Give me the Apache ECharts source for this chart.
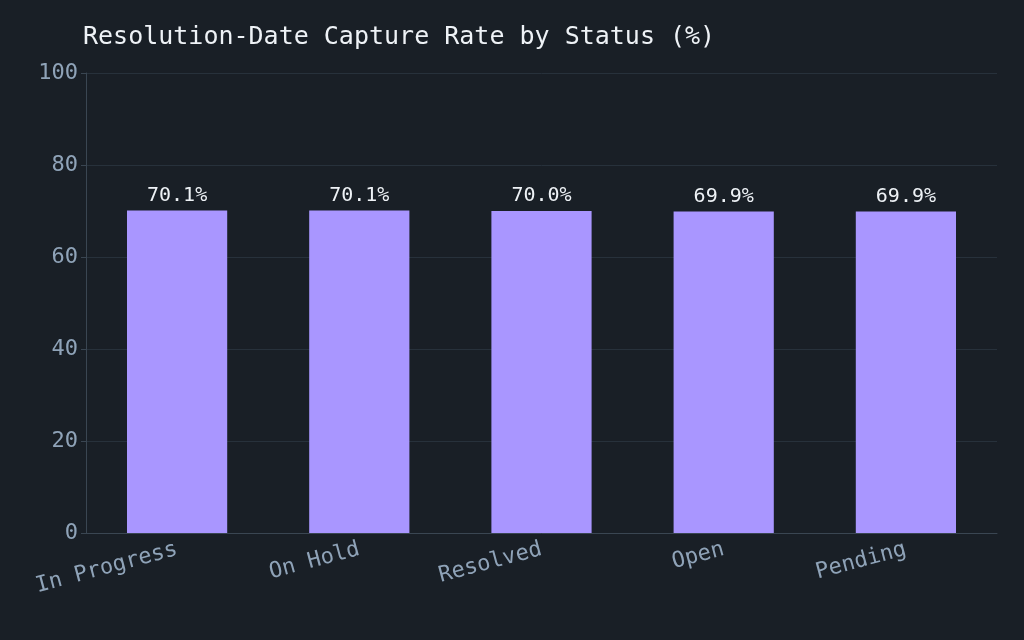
<!DOCTYPE html>
<html><head><meta charset="utf-8">
<script src="https://cdn.jsdelivr.net/npm/echarts@6/dist/echarts.min.js"></script>
<style>html,body{margin:0;background:#191f26}#c{width:1024px;height:640px}</style>
</head><body><div id="c"></div>
<script>
const categories = ["In Progress","On Hold","Resolved","Open","Pending"];
const values = [70.1,70.1,70.0,69.9,69.9];
const chart = echarts.init(document.getElementById('c'));
const font = 'DejaVu Sans Mono';
chart.setOption({
  backgroundColor:'#191f26',
  title:{text:'Resolution-Date Capture Rate by Status (%)',left:78,top:20,
    textStyle:{color:'#eef2f6',fontFamily:font,fontSize:25,fontWeight:'normal'}},
  grid:{left:86,right:27,top:73,bottom:107},
  xAxis:{type:'category',data:categories,
    axisLine:{lineStyle:{color:'#3a4652'}},axisTick:{lineStyle:{color:'#3a4652'}},
    axisLabel:{color:'#8fa3b8',fontFamily:font,fontSize:22,rotate:15,margin:16}},
  yAxis:{type:'value',min:0,max:100,interval:20,
    axisLine:{show:true,lineStyle:{color:'#3a4652'}},axisTick:{show:true,lineStyle:{color:'#3a4652'}},
    splitLine:{lineStyle:{color:'#27313b'}},
    axisLabel:{color:'#8fa3b8',fontFamily:font,fontSize:22}},
  series:[{type:'bar',data:values,barWidth:'55%',itemStyle:{color:'#a996ff'},
    label:{show:true,position:'top',formatter:p=>p.value.toFixed(1)+'%',
      color:'#eef2f6',fontFamily:font,fontSize:20}}]
});
</script></body></html>
